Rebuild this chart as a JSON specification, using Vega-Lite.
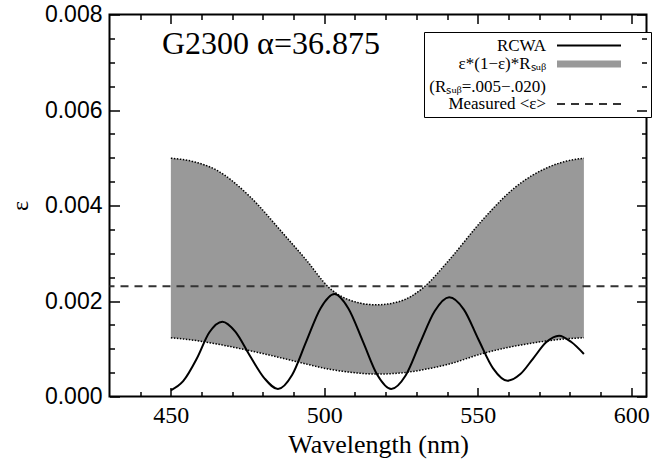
{
  "$schema": "https://vega.github.io/schema/vega-lite/v6.json",
  "width": 537,
  "height": 382,
  "autosize": {"type": "none"},
  "padding": {"left": 109.5, "top": 14.5, "right": 6.5, "bottom": 62.5},
  "background": "white",
  "title": {
    "text": "G2300 α=36.875",
    "anchor": "start",
    "frame": "group",
    "offset": -42,
    "dx": 52.5,
    "dy": 40,
    "baseline": "alphabetic",
    "font": "Liberation Serif",
    "fontSize": 32,
    "fontWeight": "normal",
    "color": "black"
  },
  "datasets": {
    "band": [
      {"wavelength": 450.0, "upper": 0.00499, "lower": 0.00123},
      {"wavelength": 457.3, "upper": 0.00492, "lower": 0.00118},
      {"wavelength": 464.9, "upper": 0.00474, "lower": 0.00110},
      {"wavelength": 475.7, "upper": 0.00419, "lower": 0.00096},
      {"wavelength": 486.5, "upper": 0.00342, "lower": 0.00080},
      {"wavelength": 494.1, "upper": 0.00286, "lower": 0.00068},
      {"wavelength": 501.7, "upper": 0.00227, "lower": 0.00057},
      {"wavelength": 508.2, "upper": 0.00202, "lower": 0.00051},
      {"wavelength": 516.9, "upper": 0.00192, "lower": 0.00047},
      {"wavelength": 524.5, "upper": 0.00199, "lower": 0.00049},
      {"wavelength": 532.1, "upper": 0.00227, "lower": 0.00056},
      {"wavelength": 540.7, "upper": 0.00286, "lower": 0.00068},
      {"wavelength": 551.6, "upper": 0.00370, "lower": 0.00090},
      {"wavelength": 562.4, "upper": 0.00439, "lower": 0.00106},
      {"wavelength": 573.3, "upper": 0.00481, "lower": 0.00117},
      {"wavelength": 579.0, "upper": 0.00493, "lower": 0.00121},
      {"wavelength": 584.6, "upper": 0.00499, "lower": 0.00123}
    ],
    "rcwa": [
      {"wavelength": 450.0, "eps": 0.00013},
      {"wavelength": 454.0, "eps": 0.00032},
      {"wavelength": 458.5, "eps": 0.00080},
      {"wavelength": 462.5, "eps": 0.00134},
      {"wavelength": 466.8, "eps": 0.001567},
      {"wavelength": 471.0, "eps": 0.00136},
      {"wavelength": 475.7, "eps": 0.00086},
      {"wavelength": 480.5, "eps": 0.00038},
      {"wavelength": 484.9, "eps": 0.000157},
      {"wavelength": 489.5, "eps": 0.00045},
      {"wavelength": 494.1, "eps": 0.00115},
      {"wavelength": 498.8, "eps": 0.00185},
      {"wavelength": 503.3, "eps": 0.002146},
      {"wavelength": 507.8, "eps": 0.00185},
      {"wavelength": 512.6, "eps": 0.00115},
      {"wavelength": 517.3, "eps": 0.00045},
      {"wavelength": 521.8, "eps": 0.000157},
      {"wavelength": 526.5, "eps": 0.00044},
      {"wavelength": 531.2, "eps": 0.00112},
      {"wavelength": 536.0, "eps": 0.00179},
      {"wavelength": 540.7, "eps": 0.002077},
      {"wavelength": 545.5, "eps": 0.00182},
      {"wavelength": 550.2, "eps": 0.00120},
      {"wavelength": 555.0, "eps": 0.00059},
      {"wavelength": 559.7, "eps": 0.000331},
      {"wavelength": 563.9, "eps": 0.00047},
      {"wavelength": 568.1, "eps": 0.00080},
      {"wavelength": 572.3, "eps": 0.001135},
      {"wavelength": 576.5, "eps": 0.001274},
      {"wavelength": 580.5, "eps": 0.00114},
      {"wavelength": 584.6, "eps": 0.00089}
    ],
    "measured": [
      {"eps": 0.00231}
    ]
  },
  "layer": [
    {
      "data": {"name": "band"},
      "mark": {"type": "area", "interpolate": "monotone", "opacity": 1},
      "encoding": {
        "x": {
          "field": "wavelength", "type": "quantitative",
          "scale": {"domain": [430, 605], "nice": false, "zero": false},
          "axis": {
            "orient": "bottom",
            "values": [450, 500, 550, 600],
            "format": "d",
            "offset": -9,
            "tickSize": 9,
            "ticks": true,
            "tickColor": "black",
            "tickWidth": 1.5,
            "domain": false,
            "grid": false,
            "zindex": 1,
            "labelOverlap": false,
            "labelFont": "Liberation Serif",
            "labelFontSize": 24,
            "labelPadding": 7,
            "title": "Wavelength (nm)",
            "titleFont": "Liberation Serif",
            "titleFontSize": 26,
            "titleFontWeight": "normal",
            "titleColor": "black",
            "titlePadding": 4
          }
        },
        "y": {
          "field": "upper", "type": "quantitative",
          "scale": {"domain": [0, 0.008], "nice": false, "zero": false},
          "axis": {
            "orient": "left",
            "values": [0, 0.002, 0.004, 0.006, 0.008],
            "format": ".3f",
            "offset": -10,
            "tickSize": 10,
            "ticks": true,
            "tickColor": "black",
            "tickWidth": 1.5,
            "domain": false,
            "grid": false,
            "zindex": 1,
            "labelOverlap": false,
            "labelFont": "Liberation Sans",
            "labelFontSize": 23,
            "labelPadding": 7.5,
            "title": "ε",
            "titleFont": "Liberation Serif",
            "titleFontSize": 24,
            "titleFontWeight": "normal",
            "titleColor": "black",
            "titlePadding": 12
          }
        },
        "y2": {"field": "lower"},
        "color": {
          "datum": "ε*(1−ε)*Rₛᵤᵦ",
          "type": "nominal",
          "scale": {
            "domain": ["RCWA", "ε*(1−ε)*Rₛᵤᵦ", "(Rₛᵤᵦ=.005−.020)", "Measured <ε>"],
            "range": ["black", "#999999", "white", "#333333"]
          },
          "legend": {
            "title": null,
            "orient": "none",
            "legendX": 314.5,
            "legendY": 17.5,
            "direction": "vertical",
            "symbolType": "M-6.4,0H6.4M8.6,0",
            "symbolSize": 100,
            "symbolOffset": 151.5,
            "symbolStrokeWidth": {"expr": "datum.value === 'RCWA' ? 2 : (datum.value === 'Measured <ε>' ? 2 : (datum.value === 'ε*(1−ε)*Rₛᵤᵦ' ? 7 : 0))"},
            "symbolDash": {"expr": "datum.value === 'Measured <ε>' ? [8, 6] : [1, 0]"},
            "symbolFillColor": "transparent",
            "labelAlign": "right",
            "labelBaseline": "middle",
            "labelOffset": -51.5,
            "labelFont": "Liberation Serif",
            "labelFontSize": 17,
            "labelColor": "black",
            "labelLimit": 300,
            "padding": 5,
            "rowPadding": -4.5,
            "strokeColor": "black",
            "fillColor": "white"
          }
        }
      }
    },
    {
      "data": {"name": "band"},
      "mark": {"type": "line", "interpolate": "monotone", "color": "black", "strokeWidth": 1.5, "strokeDash": [1.5, 1.5]},
      "encoding": {
        "x": {
          "field": "wavelength", "type": "quantitative",
          "axis": {
            "orient": "top",
            "values": [450, 500, 550, 600],
            "offset": -9,
            "tickSize": 9,
            "ticks": true,
            "tickColor": "black",
            "tickWidth": 1.5,
            "labels": false,
            "domain": false,
            "grid": false,
            "zindex": 1,
            "title": null
          }
        },
        "y": {
          "field": "upper", "type": "quantitative",
          "axis": {
            "orient": "right",
            "values": [0, 0.002, 0.004, 0.006, 0.008],
            "offset": -10,
            "tickSize": 10,
            "ticks": true,
            "tickColor": "black",
            "tickWidth": 1.5,
            "labels": false,
            "domain": false,
            "grid": false,
            "zindex": 1,
            "title": null
          }
        }
      }
    },
    {
      "data": {"name": "band"},
      "mark": {"type": "line", "interpolate": "monotone", "color": "black", "strokeWidth": 1.5, "strokeDash": [1.5, 1.5]},
      "encoding": {
        "x": {
          "field": "wavelength", "type": "quantitative",
          "axis": {
            "orient": "bottom",
            "values": [440, 460, 470, 480, 490, 510, 520, 530, 540, 560, 570, 580, 590],
            "offset": -5,
            "tickSize": 5,
            "ticks": true,
            "tickColor": "black",
            "tickWidth": 1.5,
            "labels": false,
            "domain": false,
            "grid": false,
            "zindex": 1,
            "title": null
          }
        },
        "y": {
          "field": "lower", "type": "quantitative",
          "axis": {
            "orient": "left",
            "values": [0.0005, 0.001, 0.0015, 0.0025, 0.003, 0.0035, 0.0045, 0.005, 0.0055, 0.0065, 0.007, 0.0075],
            "offset": -5,
            "tickSize": 5,
            "ticks": true,
            "tickColor": "black",
            "tickWidth": 1.5,
            "labels": false,
            "domain": false,
            "grid": false,
            "zindex": 1,
            "title": null
          }
        }
      }
    },
    {
      "data": {"name": "measured"},
      "mark": {"type": "rule", "strokeWidth": 2, "strokeDash": [8, 6]},
      "encoding": {
        "y": {
          "field": "eps", "type": "quantitative",
          "axis": {
            "orient": "right",
            "values": [0.0005, 0.001, 0.0015, 0.0025, 0.003, 0.0035, 0.0045, 0.005, 0.0055, 0.0065, 0.007, 0.0075],
            "offset": -5,
            "tickSize": 5,
            "ticks": true,
            "tickColor": "black",
            "tickWidth": 1.5,
            "labels": false,
            "domain": false,
            "grid": false,
            "zindex": 1,
            "title": null
          }
        },
        "color": {"datum": "Measured <ε>", "type": "nominal"}
      }
    },
    {
      "data": {"name": "rcwa"},
      "mark": {"type": "line", "interpolate": "monotone", "strokeWidth": 2},
      "encoding": {
        "x": {
          "field": "wavelength", "type": "quantitative",
          "axis": {
            "orient": "top",
            "values": [440, 460, 470, 480, 490, 510, 520, 530, 540, 560, 570, 580, 590],
            "offset": -5,
            "tickSize": 5,
            "ticks": true,
            "tickColor": "black",
            "tickWidth": 1.5,
            "labels": false,
            "domain": false,
            "grid": false,
            "zindex": 1,
            "title": null
          }
        },
        "y": {"field": "eps", "type": "quantitative", "axis": null},
        "color": {"datum": "RCWA", "type": "nominal"}
      }
    }
  ],
  "resolve": {"axis": {"x": "independent", "y": "independent"}},
  "config": {
    "view": {"stroke": "black", "strokeWidth": 2},
    "axis": {"labelColor": "black", "tickColor": "black"}
  }
}
